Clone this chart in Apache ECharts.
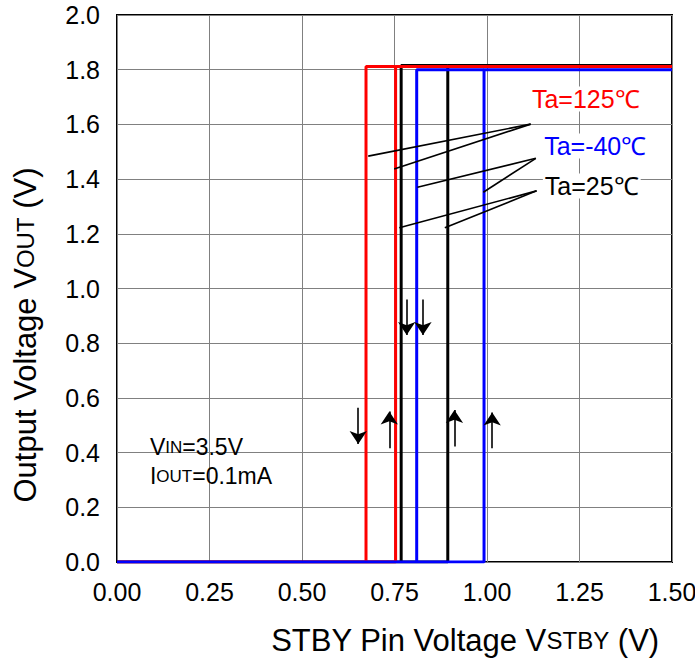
<!DOCTYPE html>
<html><head><meta charset="utf-8">
<script src="https://cdn.jsdelivr.net/npm/echarts@6/dist/echarts.min.js"></script>
<style>html,body{margin:0;padding:0;background:#fff}#c{width:695px;height:662px}</style>
</head><body><div id="c"></div>
<script>
// ---- data ----
const xTickLabels = ['0.00','0.25','0.50','0.75','1.00','1.25','1.50'];
const yTickLabels = ['0.0','0.2','0.4','0.6','0.8','1.0','1.2','1.4','1.6','1.8','2.0'];
const tempNames = ['Ta=125℃','Ta=25℃','Ta=-40℃'];
const tempColors = ['#ff0000','#000000','#0000ff'];
const fallV = [0.673, 0.768, 0.810];   // VSTBY where VOUT falls (V)
const riseV = [0.753, 0.894, 0.992];   // VSTBY where VOUT rises (V)
const highV = [1.812, 1.815, 1.800];   // VOUT high level (V)
const xMax = 1.5;
// arrows: [x, yFrom, yTo]
const arrowData = [[0.652,0.564,0.431],[0.783,0.960,0.830],[0.827,0.960,0.830],
                   [0.736,0.416,0.550],[0.912,0.422,0.556],[1.014,0.416,0.547]];
// leader lines: label anchor -> curve points
const leaderFrom = [[1.118,1.601],[1.118,1.601],[1.132,1.476],[1.132,1.476],[1.134,1.357],[1.134,1.357]];
const leaderTo   = [[0.679,1.484],[0.749,1.437],[0.812,1.370],[0.990,1.352],[0.763,1.222],[0.886,1.222]];
const labelText = ['Ta=125℃','Ta=-40℃','Ta=25℃'];
const labelColor = ['#ff0000','#0000ff','#000000'];
const labelPos = [[1.116,1.693],[1.149,1.521],[1.151,1.375]];
const condPos = [[0.089,0.42],[0.089,0.314]];

const FONT = "'Liberation Sans', Arial, sans-serif";
const chart = echarts.init(document.getElementById('c'), null, {renderer:'svg'});

const zOrder = [4, 3, 5]; // red above black, blue on top
const series = [];
for (let i = 0; i < 3; i++) {
  series.push({
    type:'line', symbol:'none', z: zOrder[i], animation:false,
    lineStyle:{color:tempColors[i], width:3},
    data:[[0,0],[riseV[i],0],[riseV[i],highV[i]],[xMax,highV[i]]]
  });
  series.push({
    type:'line', symbol:'none', z: zOrder[i], animation:false,
    lineStyle:{color:tempColors[i], width:3},
    data:[[fallV[i],0],[fallV[i],highV[i]],[riseV[i],highV[i]]]
  });
}
series.push({
  type:'lines', coordinateSystem:'cartesian2d', z:10, animation:false,
  symbol:['none','arrow'], symbolSize:[11,13],
  lineStyle:{color:'#000', width:1.6, opacity:1},
  data: arrowData.map(a => ({coords:[[a[0],a[1]],[a[0],a[2]]]}))
});
series.push({
  type:'lines', coordinateSystem:'cartesian2d', z:10, animation:false,
  symbol:'none',
  lineStyle:{color:'#000', width:1.6, opacity:1},
  data: leaderFrom.map((p,i) => ({coords:[p, leaderTo[i]]}))
});
series.push({
  type:'scatter', symbolSize:0, z:11, animation:false, itemStyle:{opacity:1},
  data: labelPos.map((p,i) => ({value:p, label:{
    show:true, position:'right', distance:0, formatter:labelText[i],
    color:labelColor[i], fontSize:25, fontFamily:FONT, opacity:1,
    backgroundColor:'#fff', padding:[0,2,0,2]
  }}))
});
const condRich = {a:{fontSize:23,fontFamily:FONT,color:'#000'},b:{fontSize:17,fontFamily:FONT,color:'#000'}};
series.push({
  type:'scatter', symbolSize:0, z:11, animation:false, itemStyle:{opacity:1},
  data: [
    {value:condPos[0], label:{show:true, position:'right', distance:0, opacity:1,
      formatter:'{a|V}{b|IN}{a|=3.5V}', rich:condRich}},
    {value:condPos[1], label:{show:true, position:'right', distance:0, opacity:1,
      formatter:'{a|I}{b|OUT}{a|=0.1mA}', rich:condRich}}
  ]
});

chart.setOption({
  animation:false,
  backgroundColor:'#fff',
  grid:{left:117, right:23, top:15, bottom:100, show:true, borderColor:'#000', borderWidth:2, z:0,
        containLabel:false, outerBoundsMode:'none'},
  xAxis:{type:'value', min:0, max:1.5, interval:0.25, z:0,
    axisLine:{show:false}, axisTick:{show:false},
    splitLine:{show:true, lineStyle:{color:'#808080', width:1}},
    axisLabel:{fontSize:25, fontFamily:FONT, color:'#000', margin:17, hideOverlap:false,
      formatter:v => xTickLabels[Math.round(v/0.25)]}
  },
  yAxis:{type:'value', min:0, max:2.0, interval:0.2, z:0,
    axisLine:{show:false}, axisTick:{show:false},
    splitLine:{show:true, lineStyle:{color:'#808080', width:1}},
    axisLabel:{fontSize:25, fontFamily:FONT, color:'#000', margin:17,
      formatter:v => yTickLabels[Math.round(v/0.2)]}
  },
  graphic:[
    {type:'text', x:465, y:640, style:{
      text:'{a|STBY Pin Voltage V}{b|STBY}{a| (V)}', align:'center', verticalAlign:'middle',
      rich:{a:{fontSize:31,fontFamily:FONT,fill:'#000'},b:{fontSize:24,fontFamily:FONT,fill:'#000'}}}},
    {type:'text', x:25, y:335, rotation:Math.PI/2, style:{
      text:'{a|Output Voltage V}{b|OUT}{a| (V)}', align:'center', verticalAlign:'middle',
      rich:{a:{fontSize:31,fontFamily:FONT,fill:'#000'},b:{fontSize:24,fontFamily:FONT,fill:'#000'}}}}
  ],
  series: series
});
</script></body></html>
